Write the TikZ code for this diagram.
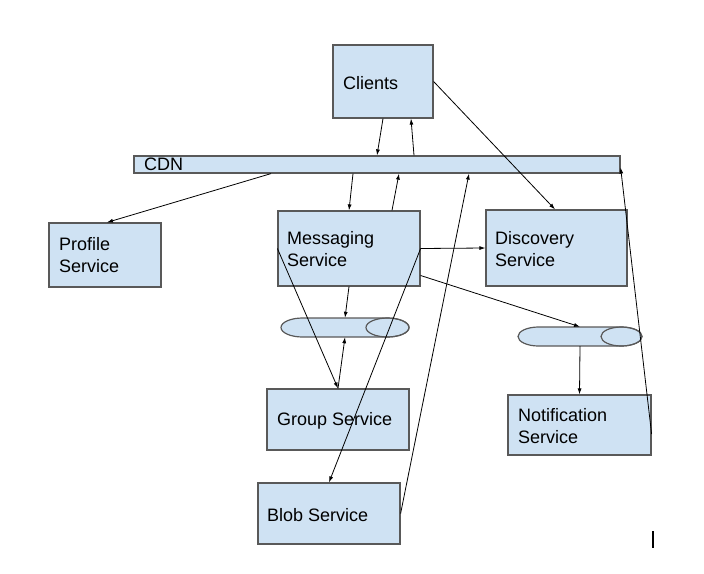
\documentclass[tikz,border=0pt]{standalone}
\usepackage{fontspec}
\setmainfont{Liberation Sans}
\usetikzlibrary{arrows.meta}
\definecolor{boxfill}{RGB}{207,226,243}
\definecolor{boxline}{RGB}{89,89,89}
\begin{document}
\begin{tikzpicture}[x=1pt,y=-1pt,
  box/.style={draw=boxline,fill=boxfill,line width=1.2pt,inner sep=0pt},
  txt/.style={anchor=west,inner sep=0pt,align=left,font=\fontsize{18}{22}\selectfont},
  conn/.style={draw=black,line width=0.8pt,-{Latex[length=6pt,width=4pt]}},
  qshape/.style={draw=boxline,fill=boxfill,line width=1.2pt}
]
\useasboundingbox (0,0) rectangle (704,573);

% boxes
\node[box,minimum width=100,minimum height=73] (clients) at (383,81.5) {};
\node[txt] (clientsT) at (343,83) {Clients};

\node[box,minimum width=486,minimum height=17] (cdn) at (377,164.5) {};
\node[txt] (cdnT) at (144,164.5) {CDN};

\node[box,minimum width=112,minimum height=64] (profile) at (105,255) {};
\node[txt] (profileT) at (59,255) {Profile\\Service};

\node[box,minimum width=142,minimum height=75] (messaging) at (349,248.5) {};
\node[txt] (messagingT) at (287,249) {Messaging\\Service};

\node[box,minimum width=141,minimum height=76] (discovery) at (556.5,248) {};
\node[txt] (discoveryT) at (495,249.5) {Discovery\\Service};

\node[box,minimum width=143,minimum height=60] (notif) at (579.5,425) {};
\node[txt] (notifT) at (518,426) {Notification\\Service};

\node[box,minimum width=142,minimum height=61] (group) at (338,419.5) {};
\node[txt] (groupT) at (277,421) {Group Service};

\node[box,minimum width=142,minimum height=61] (blob) at (329,513.5) {};
\node[txt] (blobT) at (267,515) {Blob Service};

% queues
\node[inner sep=0pt,minimum width=128,minimum height=19] (q1) at (345,327.5) {};
\path[qshape] (302.5,318) -- (387.5,318) arc[start angle=-90,end angle=90,x radius=21.5,y radius=9.5]
  -- (302.5,337) arc[start angle=90,end angle=270,x radius=21.5,y radius=9.5] -- cycle;
\draw[qshape,fill=none] (387.5,327.5) ellipse[x radius=21.5,y radius=9.5];

\node[inner sep=0pt,minimum width=124,minimum height=19] (q2) at (580,336.5) {};
\path[qshape] (538.5,327) -- (621.5,327) arc[start angle=-90,end angle=90,x radius=20.5,y radius=9.5]
  -- (538.5,346) arc[start angle=90,end angle=270,x radius=20.5,y radius=9.5] -- cycle;
\draw[qshape,fill=none] (621.5,336.5) ellipse[x radius=20.5,y radius=9.5];

% connectors
\draw[conn] (clients.south) -- (cdn.north);
\draw[conn] ([xshift=37]cdn.north) -- ([xshift=28]clients.south);
\draw[conn] (clients.east) -- ([xshift=-1.5]discovery.north);
\draw[conn] ([xshift=-106]cdn.south) -- ([xshift=2]profile.north);
\draw[conn] ([xshift=-24]cdn.south) -- (messaging.north);
\draw[conn] ([xshift=43]messaging.north) -- ([xshift=22]cdn.south);
\draw[conn] (blob.east) -- ([xshift=92]cdn.south);
\draw[conn] ([yshift=-9]notif.east) -- ([yshift=-3]cdn.east);
\draw[conn] (messaging.east) -- (discovery.west);
\draw[conn] ([yshift=-27]messaging.east) -- (q2.north);
\draw[conn] (q2.south) -- (notif.north);
\draw[conn] (messaging.south) -- (q1.north);
\draw[conn] (group.north) -- (q1.south);
\draw[conn] (messaging.west) -- (group.north);
\draw[conn] (messaging.east) -- (blob.north);

% cursor mark
\coordinate (curA) at (653,531);
\coordinate (curB) at (653,548);
\draw[line width=2pt] (curA) -- (curB);
\end{tikzpicture}
\end{document}
